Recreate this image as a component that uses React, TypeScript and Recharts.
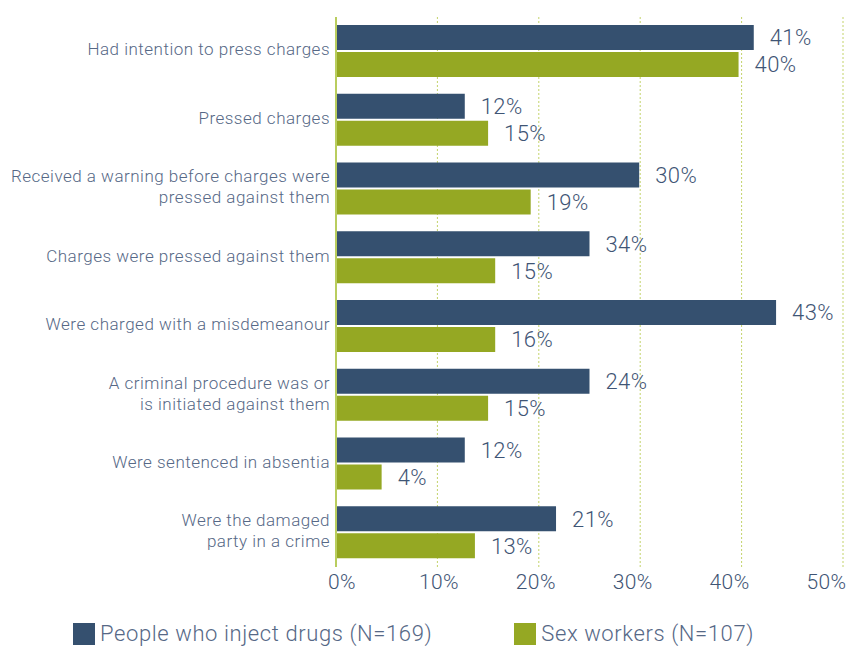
import React from 'react';
import {
  BarChart, Bar, XAxis, YAxis, CartesianGrid, Legend, LabelList,
} from 'recharts';

const CATEGORIES = [
  'Had intention to press charges',
  'Pressed charges',
  'Received a warning before charges were\npressed against them',
  'Charges were pressed against them',
  'Were charged with a misdemeanour',
  'A criminal procedure was or\nis initiated against them',
  'Were sentenced in absentia',
  'Were the damaged\nparty in a crime',
];

// bar lengths as drawn in the picture (percent)
const PWID_VALUES = [41.2, 12.7, 29.9, 25.0, 43.4, 25.0, 12.7, 21.7];
const SW_VALUES = [39.7, 15.0, 19.2, 15.7, 15.7, 15.0, 4.5, 13.7];

// value labels as printed next to the bars
const PWID_LABELS = ['41%', '12%', '30%', '34%', '43%', '24%', '12%', '21%'];
const SW_LABELS = ['40%', '15%', '19%', '15%', '16%', '15%', '4%', '13%'];

const X_TICKS = [0, 10, 20, 30, 40, 50];

const SERIES_NAMES = ['People who inject drugs (N=169)', 'Sex workers (N=107)'];

const NAVY = '#35506f';
const GREEN = '#95a823';
const GRID = '#c3d36a';
const TEXT = '#566886';
const VALUE_TEXT = '#3f5575';
const FONT = 'Roboto, sans-serif';

const data = CATEGORIES.map((name, i) => ({
  name,
  pwid: PWID_VALUES[i],
  sw: SW_VALUES[i],
  pwidLabel: PWID_LABELS[i],
  swLabel: SW_LABELS[i],
}));

const CategoryTick = ({ x, y, payload }: any) => {
  const lines = String(payload.value).split('\n');
  const lineHeight = 21;
  const start = -((lines.length - 1) * lineHeight) / 2 - 2;
  return (
    <text
      x={x + 2}
      y={y}
      textAnchor="end"
      fill={TEXT}
      fontFamily={FONT}
      fontWeight={300}
      fontSize={17}
      letterSpacing={0.5}
    >
      {lines.map((line, i) => (
        <tspan key={i} x={x + 2} dy={i === 0 ? start : lineHeight} dominantBaseline="central">
          {line}
        </tspan>
      ))}
    </text>
  );
};

const PercentTick = ({ x, y, payload, index }: any) => (
  <text
    x={x}
    y={y}
    dx={6 - index * 4.5}
    dy={14}
    textAnchor="middle"
    fill={VALUE_TEXT}
    fontFamily={FONT}
    fontWeight={300}
    fontSize={21}
    letterSpacing={0.4}
  >
    {payload.value}%
  </text>
);

const ChartLegend = () => (
  <div
    style={{
      display: 'flex',
      alignItems: 'center',
      boxSizing: 'border-box',
      paddingLeft: 73,
      paddingTop: 18,
      gap: 82,
      fontFamily: FONT,
      fontWeight: 300,
      fontSize: 22,
      letterSpacing: 0.6,
      color: TEXT,
      height: 50,
      lineHeight: '32px',
    }}
  >
    {SERIES_NAMES.map((name, i) => (
      <div key={name} style={{ display: 'flex', alignItems: 'center' }}>
        <span
          style={{
            display: 'inline-block',
            width: 22,
            height: 22,
            background: i === 0 ? NAVY : GREEN,
            marginRight: 5,
          }}
        />
        {name}
      </div>
    ))}
  </div>
);

export default function App() {
  return (
    <div style={{ position: 'absolute', left: 0, top: 0, width: 851, height: 650, background: '#fff' }}>
      <BarChart
        width={851}
        height={650}
        data={data}
        layout="vertical"
        margin={{ top: 17, right: 8, bottom: 0, left: 0 }}
        barSize={25}
        barGap={2}
      >
        <CartesianGrid horizontal={false} stroke={GRID} strokeDasharray="2 2" />
        <XAxis
          type="number"
          domain={[0, 50]}
          ticks={X_TICKS}
          axisLine={false}
          tickLine={false}
          height={33}
          tick={<PercentTick />}
        />
        <YAxis
          type="category"
          dataKey="name"
          width={336}
          axisLine={{ stroke: '#b9cd5e', strokeWidth: 2 }}
          tickLine={false}
          tick={<CategoryTick />}
        />
        <Legend verticalAlign="bottom" content={() => <ChartLegend />} wrapperStyle={{ height: 50 }} />
        <Bar dataKey="pwid" name={SERIES_NAMES[0]} fill={NAVY} isAnimationActive={false}>
          <LabelList
            dataKey="pwidLabel"
            position="right"
            offset={16}
            fill={VALUE_TEXT}
            fontFamily={FONT}
            fontWeight={300}
            fontSize={22}
            letterSpacing={0.4}
          />
        </Bar>
        <Bar dataKey="sw" name={SERIES_NAMES[1]} fill={GREEN} isAnimationActive={false}>
          <LabelList
            dataKey="swLabel"
            position="right"
            offset={16}
            fill={VALUE_TEXT}
            fontFamily={FONT}
            fontWeight={300}
            fontSize={22}
            letterSpacing={0.4}
          />
        </Bar>
      </BarChart>
    </div>
  );
}
